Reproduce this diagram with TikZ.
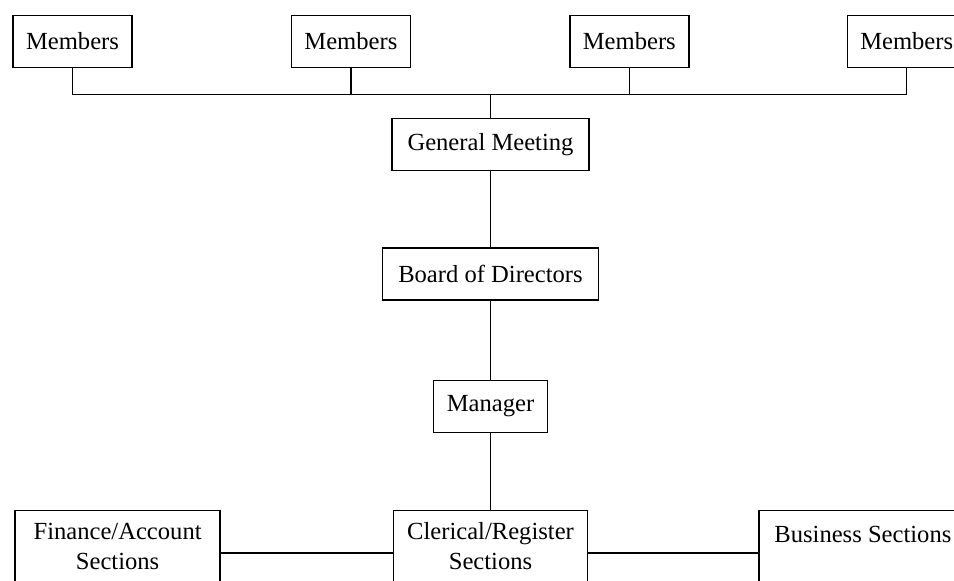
\documentclass[tikz,border=0pt]{standalone}
\usepackage{fontspec}
\setmainfont{Liberation Serif}
\usetikzlibrary{positioning}

\tikzset{
    unit/.style={draw, line width=0.7pt, minimum height=26pt, inner xsep=6pt, inner ysep=3pt},
    member/.style={unit, minimum width=59.5pt},
    section/.style={draw, line width=0.7pt, inner xsep=6pt, inner ysep=4pt, text height=10.25pt, text depth=24pt},
    link/.style={line width=0.7pt}
}

\begin{document}
\begin{tikzpicture}[x=1pt, y=1pt, font=\fontsize{12.3}{15}\selectfont]
    \useasboundingbox (0,0) rectangle (477,-290);
    \clip (0,0) rectangle (477,-290);

    \node[member] (m1) at (36.25,-20.75) {Members};
    \node[member, right=79pt of m1] (m2) {Members};
    \node[member, right=79pt of m2] (m3) {Members};
    \node[member, right=78.5pt of m3] (m4) {Members};
    \coordinate[below=13pt of m1] (bus);

    \node[unit, minimum width=98.5pt] (gm) at (245.25,-72.25) {General Meeting};
    \node[unit, minimum width=108pt, below=38pt of gm] (board) {Board of Directors};
    \node[unit, minimum width=57pt, below=39.5pt of board] (manager) {Manager};

    \node[section, minimum width=97pt, below=38.5pt of manager] (clerical)
        {\begin{tabular}[t]{@{}c@{}}Clerical/Register\\Sections\end{tabular}};
    \node[section, minimum width=102.5pt, left=86pt of clerical] (finance)
        {\begin{tabular}[t]{@{}c@{}}Finance/Account\\Sections\end{tabular}};
    \node[section, minimum width=104pt, text height=12pt, text depth=22pt,
          right=85pt of clerical.north east, anchor=north west] (business) {Business Sections};

    % members to general meeting
    \draw[link] (m1) -- (m1 |- bus) -| (m4);
    \draw[link] (m2) -- (m2 |- bus);
    \draw[link] (m3) -- (m3 |- bus);
    \draw[link] (gm) -- (gm |- bus);

    \draw[link] (gm) -- (board) -- (manager) -- (clerical);
    \draw[link] (finance) -- (clerical);
    \draw[link] (clerical.east) -- (business.west |- clerical.east);
\end{tikzpicture}
\end{document}
